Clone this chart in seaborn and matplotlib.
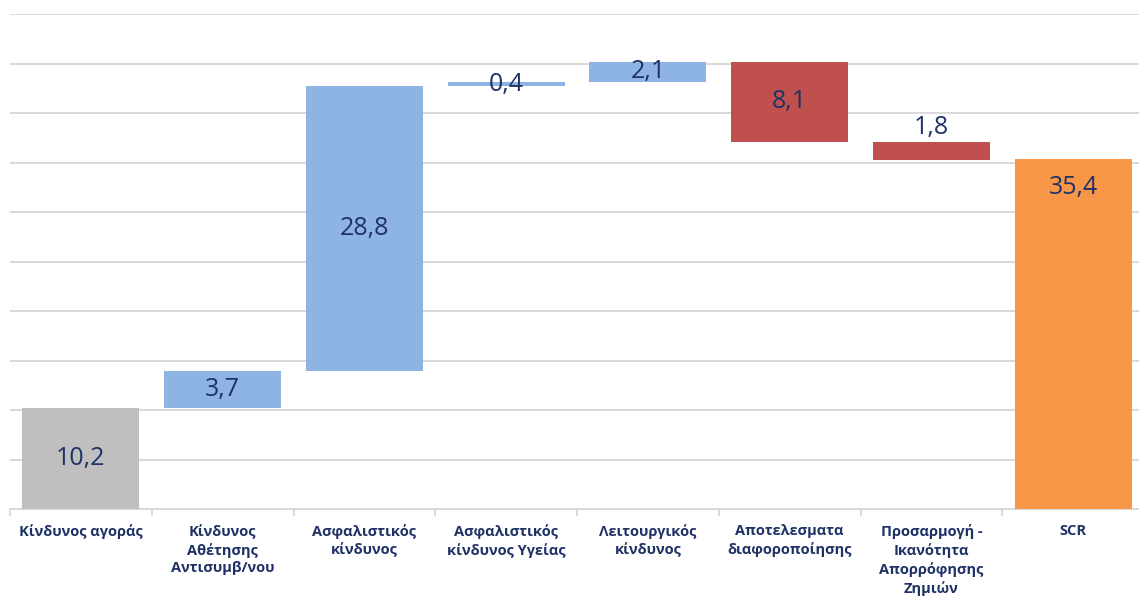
import numpy as np
import pandas as pd
import matplotlib
matplotlib.use('Agg')
import matplotlib.pyplot as plt
import seaborn as sns

# ── Data ───────────────────────────────────────────────────────────────────
CATEGORIES = ['Κίνδυνος αγοράς',
              'Κίνδυνος\nΑθέτησης\nΑντισυμβ/νου',
              'Ασφαλιστικός\nκίνδυνος',
              'Ασφαλιστικός\nκίνδυνος Υγείας',
              'Λειτουργικός\nκίνδυνος',
              'Αποτελεσματα\nδιαφοροποίησης',
              'Προσαρμογή -\nΙκανότητα\nΑπορρόφησης\nΖημιών',
              'SCR']
VALUES = [10.2, 3.7, 28.8, 0.4, 2.1, -8.1, -1.8, 35.4]
KINDS = ['total', 'step', 'step', 'step', 'step', 'step', 'step', 'total']
LABEL_POS = ['center', 'center', 'center', 'center', 'center', 'center', 'above', 'top']

COLORS = {'total_first': '#BFBFBF', 'inc': '#8EB4E3', 'dec': '#C0504D', 'total_last': '#F79646'}
TEXT_COLOR = '#1F3266'
GRID_COLOR = '#D9D9D9'

# ── Waterfall geometry ─────────────────────────────────────────────────────
bottoms, heights, colors = [], [], []
running = 0.0
for i, (v, k) in enumerate(zip(VALUES, KINDS)):
    if k == 'total':
        bottoms.append(0.0)
        heights.append(v)
        running = v
        colors.append(COLORS['total_first'] if i == 0 else COLORS['total_last'])
    else:
        new = running + v
        bottoms.append(min(running, new))
        heights.append(abs(v))
        colors.append(COLORS['inc'] if v > 0 else COLORS['dec'])
        running = new

df = pd.DataFrame({'cat': CATEGORIES, 'height': heights})

sns.set_theme(style='white')
plt.rcParams['font.family'] = ['Open Sans', 'DejaVu Sans']

fig = plt.figure(figsize=(11.39, 5.97), dpi=100)
# plot area runs slightly past the right edge, as in the original
ax = fig.add_axes([10 / 1139, 88 / 597, 1134 / 1139, 495 / 597])

sns.barplot(data=df, x='cat', y='height', order=CATEGORIES, width=0.826,
            color=COLORS['inc'], bottom=np.array(bottoms), ax=ax, zorder=3, linewidth=0)
for patch, c in zip(ax.patches, colors):
    patch.set_facecolor(c)
    patch.set_edgecolor(c)

# data labels
for i, (v, b, h, pos) in enumerate(zip(VALUES, bottoms, heights, LABEL_POS)):
    txt = f"{abs(v):.1f}".replace('.', ',')
    if pos == 'center':
        y, va = b + h / 2, 'center'
    elif pos == 'above':
        y, va = b + h + 0.15, 'bottom'
    else:
        y, va = b + h - 1.7, 'top'
    ax.text(i, y, txt, ha='center', va=va, fontsize=18, color=TEXT_COLOR, zorder=4)

ax.set_ylim(0, 50)
ax.set_xlim(-0.5, len(CATEGORIES) - 0.5)
ax.set_yticks(np.arange(0, 51, 5))
ax.set_yticklabels([])
ax.yaxis.grid(True, color=GRID_COLOR, linewidth=1.4, zorder=0)
ax.set_axisbelow(True)
ax.tick_params(axis='y', length=0)

ax.set_xlabel('')
ax.set_ylabel('')
ax.set_xticks(range(len(CATEGORIES)))
ax.set_xticklabels(CATEGORIES, fontsize=10.5, fontweight='bold', color=TEXT_COLOR,
                   linespacing=1.33, va='top')
ax.set_xticks(np.arange(-0.5, len(CATEGORIES), 1), minor=True)
ax.tick_params(axis='x', which='major', length=0, pad=11)
ax.tick_params(axis='x', which='minor', length=5, width=1.4, color=GRID_COLOR, bottom=True)

for s in ['top', 'right', 'left']:
    ax.spines[s].set_visible(False)
ax.spines['bottom'].set_color(GRID_COLOR)
ax.spines['bottom'].set_linewidth(1.4)

fig.savefig('out.png', dpi=100)
plt.close(fig)
